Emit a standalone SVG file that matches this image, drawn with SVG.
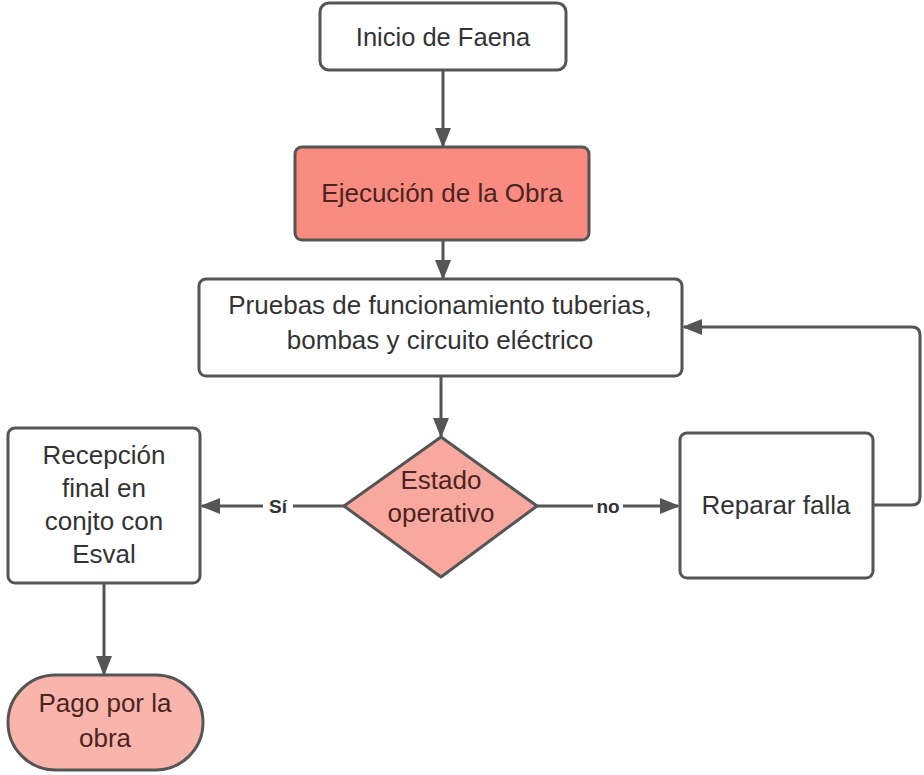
<svg xmlns="http://www.w3.org/2000/svg" width="924" height="775" viewBox="0 0 924 775">
<defs>
<marker id="ah2" viewBox="0 0 10 10" refX="9" refY="5" markerWidth="20" markerHeight="16" markerUnits="userSpaceOnUse" orient="auto" preserveAspectRatio="none">
<path d="M0,0 L10,5 L0,10 z" fill="#555"/>
</marker>
<style>
.box{fill:#fff;stroke:#555;stroke-width:3}
.t{font-family:"Liberation Sans",Arial,sans-serif;font-size:26px;fill:#333;text-anchor:middle}
.tc{font-family:"Liberation Sans",Arial,sans-serif;font-size:26px;fill:#4a2420;text-anchor:middle}
.lbl{font-family:"Liberation Sans",Arial,sans-serif;font-size:19px;font-weight:bold;fill:#333;text-anchor:middle}
.c{fill:none;stroke:#555;stroke-width:3;marker-end:url(#ah2)}
</style>
</defs>
<rect width="924" height="775" fill="#fff"/>
<g id="connectors">
<line class="c" x1="443" y1="70" x2="443" y2="146"/>
<line class="c" x1="443" y1="240" x2="443" y2="278"/>
<line class="c" x1="441" y1="376" x2="441" y2="436"/>
<line class="c" x1="344" y1="506" x2="202" y2="506"/>
<line class="c" x1="537" y1="506" x2="678" y2="506"/>
<path class="c" d="M873,505 H912 Q920,505 920,497 V335 Q920,327 912,327 H684"/>
<line class="c" x1="104" y1="583" x2="104" y2="674"/>
<rect x="263" y="494" width="30" height="24" fill="#fff"/>
<text class="lbl" x="278" y="513">Sí</text>
<rect x="593" y="494" width="30" height="24" fill="#fff"/>
<text class="lbl" x="608" y="513">no</text>
</g>
<g id="inicio">
<rect class="box" x="320" y="3" width="246" height="67" rx="9" stroke-width="1.5"/>
<text class="t" x="443" y="46" style="font-size:25.5px">Inicio de Faena</text>
</g>
<g id="ejecucion">
<rect x="295" y="147" width="294" height="93" rx="7" fill="#f98b80" stroke="#555" stroke-width="3"/>
<text class="tc" x="442" y="202">Ejecución de la Obra</text>
</g>
<g id="pruebas">
<rect class="box" x="199" y="279" width="483" height="97" rx="7"/>
<text class="t" x="440" y="314">Pruebas de funcionamiento tuberias,</text>
<text class="t" x="440" y="349">bombas y circuito eléctrico</text>
</g>
<g id="estado">
<polygon points="441,437 537,506 441,577 344,506" fill="#f8a89e" stroke="#555" stroke-width="3" stroke-linejoin="round"/>
<text class="tc" x="441" y="489">Estado</text>
<text class="tc" x="441" y="522">operativo</text>
</g>
<g id="recepcion">
<rect class="box" x="8" y="428" width="192" height="155" rx="7"/>
<text class="t" x="104" y="464">Recepción</text>
<text class="t" x="104" y="497">final en</text>
<text class="t" x="104" y="530">conjto con</text>
<text class="t" x="104" y="563">Esval</text>
</g>
<g id="reparar">
<rect class="box" x="680" y="433" width="193" height="145" rx="7"/>
<text class="t" x="776" y="514">Reparar falla</text>
</g>
<g id="pago">
<rect x="8" y="675" width="195" height="95" rx="47.5" fill="#f9b4ab" stroke="#555" stroke-width="3"/>
<text class="tc" x="105" y="712">Pago por la</text>
<text class="tc" x="105" y="747">obra</text>
</g>
</svg>
